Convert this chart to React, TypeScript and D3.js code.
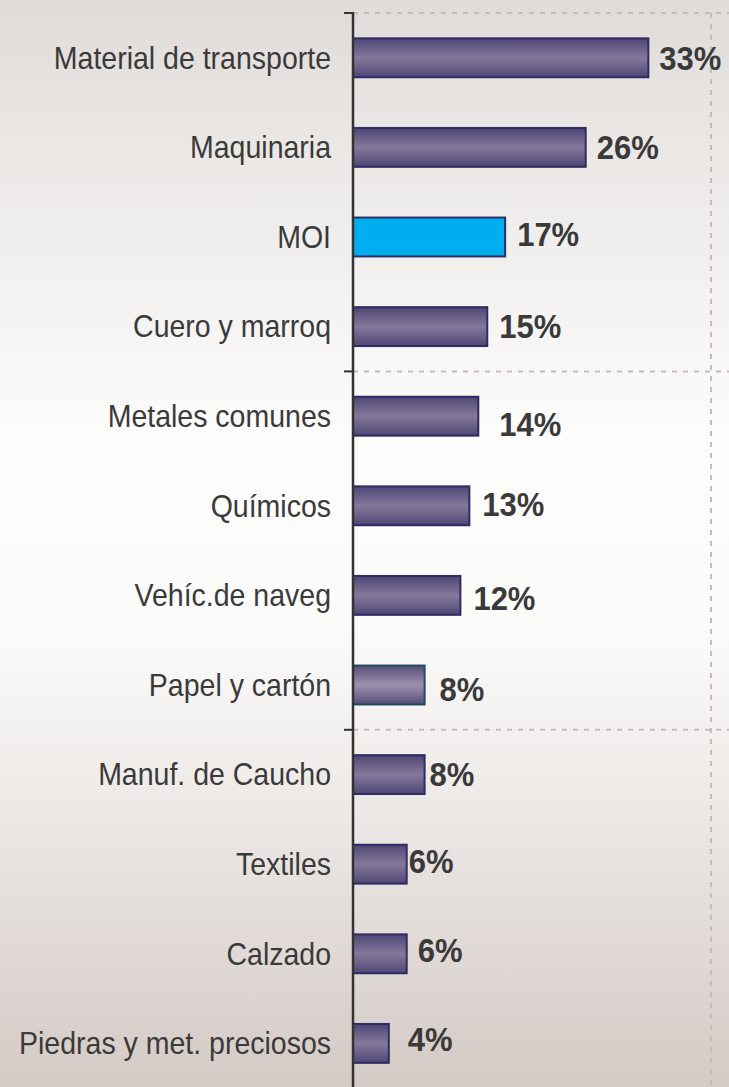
import React, { useEffect, useRef } from 'react';
import * as d3 from 'd3';

// categories, top to bottom
const categories = [
  'Material de transporte',
  'Maquinaria',
  'MOI',
  'Cuero y marroq',
  'Metales comunes',
  'Químicos',
  'Vehíc.de naveg',
  'Papel y cartón',
  'Manuf. de Caucho',
  'Textiles',
  'Calzado',
  'Piedras y met. preciosos'
];

// share, in percent
const values = [33, 26, 17, 15, 14, 13, 12, 8, 8, 6, 6, 4];

const valueLabels = ['33%', '26%', '17%', '15%', '14%', '13%', '12%', '8%', '8%', '6%', '6%', '4%'];

// which bar is highlighted
const highlight = 'MOI';
const lighter = 'Papel y cartón';

// label nudges (dx, dy) as placed in the original
const labelDx = [11, 11, 12, 12, 21, 13, 13, 15, 5, 2, 11, 19];
const labelDy = [0, 0, -3, 0, 8, -2, 3, 4, 0, -3, -4, -4];

const App = () => {
  const svgRef = useRef<SVGSVGElement>(null);

  useEffect(() => {
    document.body.style.margin = '0';
    const svg = d3.select(svgRef.current);
    svg.selectAll('*').remove();

    const W = 729, H = 1087;
    const axisX = 353, top = 13;
    const stretch = 1.08; // text in the original is a little tall

    const defs = svg.append('defs');
    const bg = defs.append('linearGradient').attr('id', 'bg')
      .attr('x1', 0).attr('y1', 0).attr('x2', 0).attr('y2', 1);
    [['0%', '#e0dbd8'], ['20%', '#efedeb'], ['40%', '#fcfcfb'], ['58%', '#fbfbfa'], ['75%', '#ece8e5'], ['100%', '#d4cac6']]
      .forEach(s => bg.append('stop').attr('offset', s[0]).attr('stop-color', s[1]));

    const barGrad = (id, edge, mid, center) => {
      const g = defs.append('linearGradient').attr('id', id)
        .attr('x1', 0).attr('y1', 0).attr('x2', 0).attr('y2', 1);
      [['0%', edge], ['25%', mid], ['50%', center], ['75%', mid], ['100%', edge]]
        .forEach(s => g.append('stop').attr('offset', s[0]).attr('stop-color', s[1]));
    };
    barGrad('bar', '#4d4574', '#6a6088', '#85799a');
    barGrad('barLight', '#574e78', '#7a7094', '#9c92ad');

    svg.append('rect').attr('width', W).attr('height', H).attr('fill', 'url(#bg)');

    const x = d3.scaleLinear().domain([0, 40]).range([axisX, 711]);
    const y = d3.scaleBand()
      .domain(categories)
      .range([top, top + categories.length * 89.6])
      .paddingInner(0.566)
      .paddingOuter(0.283);

    // gridlines every 4 categories
    const gridY = categories.filter((d, i) => i % 4 === 0).map(d => y(d) - y.step() * 0.283);
    const grid = svg.append('g').attr('stroke', '#c5bcb9').attr('stroke-width', 2)
      .attr('stroke-dasharray', '5,6');
    grid.selectAll('line.h').data(gridY).enter().append('line')
      .attr('class', 'h')
      .attr('x1', axisX).attr('x2', W)
      .attr('y1', d => d).attr('y2', d => d);
    grid.append('line')
      .attr('x1', x(40)).attr('x2', x(40))
      .attr('y1', top).attr('y2', H);

    // bars
    svg.append('g').selectAll('rect')
      .data(categories)
      .enter().append('rect')
      .attr('x', x(0))
      .attr('y', d => y(d))
      .attr('width', (d, i) => x(values[i]) - x(0))
      .attr('height', y.bandwidth())
      .attr('fill', d => d === highlight ? '#00adee' : d === lighter ? 'url(#barLight)' : 'url(#bar)')
      .attr('stroke', d => d === lighter ? '#1f4b60' : '#2f2b63')
      .attr('stroke-width', 2);

    // axis line and ticks
    svg.append('line')
      .attr('x1', axisX).attr('x2', axisX)
      .attr('y1', top - 1).attr('y2', H)
      .attr('stroke', '#333').attr('stroke-width', 2.5);
    svg.append('g').selectAll('line')
      .data(gridY).enter().append('line')
      .attr('x1', axisX - 9).attr('x2', axisX)
      .attr('y1', d => d).attr('y2', d => d)
      .attr('stroke', '#333').attr('stroke-width', 2);

    // category labels
    svg.append('g')
      .attr('font-family', '"Liberation Sans", Arial, sans-serif')
      .attr('font-size', 28.5)
      .attr('fill', '#3a3a3a')
      .attr('text-anchor', 'end')
      .selectAll('text')
      .data(categories)
      .enter().append('text')
      .attr('transform', d => `translate(${axisX - 22},${y(d) + y.bandwidth() / 2}) scale(1,${stretch})`)
      .attr('dy', '0.35em')
      .text(d => d);

    // value labels
    svg.append('g')
      .attr('font-family', '"Liberation Sans", Arial, sans-serif')
      .attr('font-size', 31)
      .attr('font-weight', 'bold')
      .attr('fill', '#3a3a3a')
      .selectAll('text')
      .data(categories)
      .enter().append('text')
      .attr('transform', (d, i) => `translate(${x(values[i]) + labelDx[i]},${y(d) + y.bandwidth() / 2 + labelDy[i]}) scale(1,${stretch})`)
      .attr('dy', '0.35em')
      .text((d, i) => valueLabels[i]);
  }, []);

  return <svg ref={svgRef} width="729" height="1087" style={{ display: 'block' }}></svg>;
};

export default App;
